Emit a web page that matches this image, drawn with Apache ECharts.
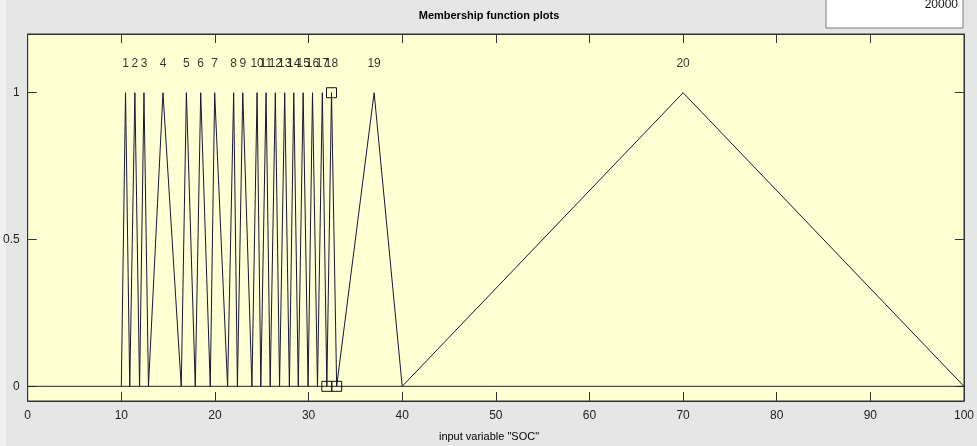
<!DOCTYPE html>
<html>
<head>
<meta charset="utf-8">
<script src="https://cdn.jsdelivr.net/npm/echarts@6/dist/echarts.min.js"></script>
<style>
html,body{margin:0;padding:0;background:#e6e6e6;}
#c{width:977px;height:446px;}
</style>
</head>
<body>
<div id="c"></div>
<script>
// Membership functions of input variable "SOC" (triangular: left foot, peak, right foot)
var mfNames = ['1','2','3','4','5','6','7','8','9','10','11','12','13','14','15','16','17','18','19','20'];
var mfLeft  = [10, 10.9, 11.95, 12.9, 16.4, 17.9, 19.5, 21.35, 22.4, 23.95, 24.9, 25.9, 26.9, 27.95, 28.9, 29.95, 30.95, 31.95, 33, 40];
var mfPeak  = [10.45, 11.45, 12.42, 14.45, 16.95, 18.48, 19.97, 22.0, 22.97, 24.5, 25.46, 26.45, 27.45, 28.42, 29.42, 30.42, 31.47, 32.45, 37, 70];
var mfRight = [10.9, 11.95, 12.9, 16.4, 17.9, 19.5, 21.35, 22.4, 23.95, 24.9, 25.9, 26.9, 27.95, 28.9, 29.95, 30.95, 31.95, 33, 40, 100];
var selectedMf = 18;          // MF drawn with vertex handles
var labelLevel = 1.1;         // height where MF names are written
var xTicks = [0, 10, 20, 30, 40, 50, 60, 70, 80, 90, 100];
var yTicks = [0, 0.5, 1];
var xRange = [0, 100];
var yRange = [-0.05, 1.2];

var lineColor = '#16163a';
var font = 'Liberation Sans, Arial, sans-serif';

var series = [];
// zero line across the universe of discourse
series.push({
  type: 'line', data: [[xRange[0], 0], [xRange[1], 0]], symbol: 'none',
  lineStyle: { color: '#222230', width: 1 }, silent: true, animation: false
});
for (var i = 0; i < mfNames.length; i++) {
  var isSel = (i + 1) === selectedMf;
  series.push({
    type: 'line',
    data: [[mfLeft[i], 0], [mfPeak[i], 1], [mfRight[i], 0]],
    symbol: isSel ? 'rect' : 'none',
    showSymbol: isSel,
    symbolSize: 10,
    itemStyle: { color: 'rgba(0,0,0,0)', borderColor: '#111', borderWidth: 1 },
    lineStyle: { color: lineColor, width: 1 },
    silent: true, animation: false
  });
}
// MF names above peaks
series.push({
  type: 'scatter',
  data: mfNames.map(function (n, i) { return { value: [mfPeak[i], labelLevel], name: n }; }),
  symbolSize: 1,
  itemStyle: { color: 'rgba(0,0,0,0)' },
  label: {
    show: true, position: 'inside', formatter: function (p) { return p.name; },
    color: '#000', fontFamily: font, fontSize: 12
  },
  silent: true, animation: false
});

var chart = echarts.init(document.getElementById('c'), null, { renderer: 'canvas' });
chart.setOption({
  backgroundColor: '#e6e6e6',
  animation: false,
  grid: { left: 27, right: 12, top: 34, bottom: 45, show: true, backgroundColor: '#ffffd4', borderColor: '#333', borderWidth: 1 },
  xAxis: [{
    type: 'value', min: xRange[0], max: xRange[1], interval: 10,
    position: 'bottom',
    axisLine: { show: true, onZero: false, lineStyle: { color: '#333' } },
    axisTick: { show: true, inside: true, length: 9, lineStyle: { color: '#333' } },
    axisLabel: { color: '#222', fontFamily: font, fontSize: 12, margin: 9 },
    splitLine: { show: false }
  }, {
    type: 'value', min: xRange[0], max: xRange[1], interval: 10,
    position: 'top',
    axisLine: { show: true, onZero: false, lineStyle: { color: '#333' } },
    axisTick: { show: true, inside: true, length: 9, lineStyle: { color: '#333' } },
    axisLabel: { show: false },
    splitLine: { show: false }
  }],
  yAxis: [{
    type: 'value', min: yRange[0], max: yRange[1],
    axisLine: { show: true, onZero: false, lineStyle: { color: '#333' } },
    axisTick: { show: true, inside: true, length: 9, customValues: yTicks, lineStyle: { color: '#333' } },
    axisLabel: { color: '#222', fontFamily: font, fontSize: 12, margin: 8, customValues: yTicks,
      formatter: function (v) { return String(v); } },
    splitLine: { show: false }
  }, {
    type: 'value', min: yRange[0], max: yRange[1], position: 'right',
    axisLine: { show: true, onZero: false, lineStyle: { color: '#333' } },
    axisTick: { show: true, inside: true, length: 9, customValues: yTicks, lineStyle: { color: '#333' } },
    axisLabel: { show: false },
    splitLine: { show: false }
  }],
  graphic: [
    { type: 'rect', left: 0, top: 0, shape: { width: 6, height: 446 }, style: { fill: '#f2f2f2' }, z: -1 },
    { type: 'text', x: 489, y: 16, style: { text: 'Membership function plots', fill: '#000', font: 'bold 11px ' + font, textAlign: 'center', textVerticalAlign: 'middle' } },
    { type: 'text', x: 489, y: 437, style: { text: 'input variable "SOC"', fill: '#000', font: '11px ' + font, textAlign: 'center', textVerticalAlign: 'middle' } },
    { type: 'rect', shape: { x: 826, y: -2, width: 137, height: 30 }, style: { fill: '#ffffff', stroke: '#7a7a7a', lineWidth: 1 } },
    { type: 'text', x: 958, y: 11, style: { text: '20000', fill: '#111', font: '12px ' + font, textAlign: 'right', textVerticalAlign: 'bottom' } }
  ],
  series: series
});
</script>
</body>
</html>
